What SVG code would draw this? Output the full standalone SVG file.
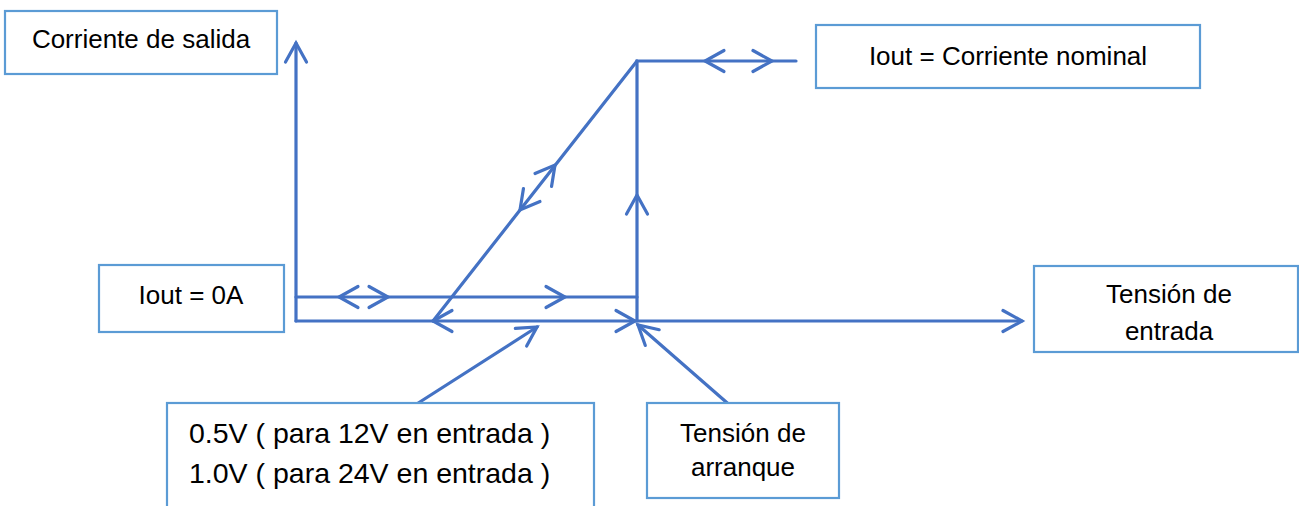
<svg xmlns="http://www.w3.org/2000/svg" xmlns:xlink="http://www.w3.org/1999/xlink" width="1299" height="506" viewBox="0 0 1299 506">
<style>
.box{fill:#fff;stroke:#5B9BD5;stroke-width:2.2}
.ln{fill:none;stroke:#4472C4;stroke-width:3.2;stroke-linecap:round;stroke-linejoin:miter}
.t{font-family:"Liberation Sans",Arial,sans-serif;font-size:26px;fill:#000}
.c{text-anchor:middle}
</style>
<defs>
<path id="chev" d="M-19,-10.5 L0,0 L-19,10.5" fill="none" stroke="#4472C4" stroke-width="3.2" stroke-linecap="round" stroke-linejoin="miter"/>
</defs>
<rect width="1299" height="506" fill="#fff"/>
<g id="connectors">
<path class="ln" d="M296,321 L296,43"/>
<use xlink:href="#chev" transform="translate(296,43) rotate(-90)"/>
<path class="ln" d="M296,321 L1022,321"/>
<use xlink:href="#chev" transform="translate(1022,321)"/>
<use xlink:href="#chev" transform="translate(433,321) rotate(180)"/>
<use xlink:href="#chev" transform="translate(635,321)"/>
<path class="ln" d="M296,297 L637,297"/>
<use xlink:href="#chev" transform="translate(339,297) rotate(180)"/>
<use xlink:href="#chev" transform="translate(388,297)"/>
<use xlink:href="#chev" transform="translate(565,297)"/>
<path class="ln" d="M637,321 L637,61 L796,61"/>
<use xlink:href="#chev" transform="translate(637,195) rotate(-90)"/>
<use xlink:href="#chev" transform="translate(705,61) rotate(180)"/>
<use xlink:href="#chev" transform="translate(772,61)"/>
<path class="ln" d="M433,321 L637,61"/>
<use xlink:href="#chev" transform="translate(555,165) rotate(-51.9)"/>
<use xlink:href="#chev" transform="translate(520,210) rotate(128.1)"/>
<path class="ln" d="M412,407 L537,327"/>
<use xlink:href="#chev" transform="translate(537,327) rotate(-32.6)"/>
<path class="ln" d="M733,408 L638,325"/>
<use xlink:href="#chev" transform="translate(638,325) rotate(-138.6)"/>
</g>
<g id="n-salida">
<rect class="box" x="5" y="11" width="272" height="63"/>
<text class="t c" x="141" y="48">Corriente de salida</text>
</g>
<g id="n-nominal">
<rect class="box" x="816" y="25" width="384" height="63"/>
<text class="t c" x="1008" y="65">Iout = Corriente nominal</text>
</g>
<g id="n-0a">
<rect class="box" x="99" y="265" width="185" height="67"/>
<text class="t c" x="191" y="304">Iout = 0A</text>
</g>
<g id="n-entrada">
<rect class="box" x="1034" y="266" width="264" height="86"/>
<text class="t c" x="1169" y="303">Tensión de</text>
<text class="t c" x="1169" y="340">entrada</text>
</g>
<g id="n-umbral">
<rect class="box" x="167" y="403" width="427" height="110"/>
<text class="t" x="189" y="443" style="font-size:28.5px">0.5V ( para 12V en entrada )</text>
<text class="t" x="189" y="483" style="font-size:28.5px">1.0V ( para 24V en entrada )</text>
</g>
<g id="n-arranque">
<rect class="box" x="647" y="403" width="192" height="95"/>
<text class="t c" x="743" y="442">Tensión de</text>
<text class="t c" x="743" y="476">arranque</text>
</g>
</svg>
